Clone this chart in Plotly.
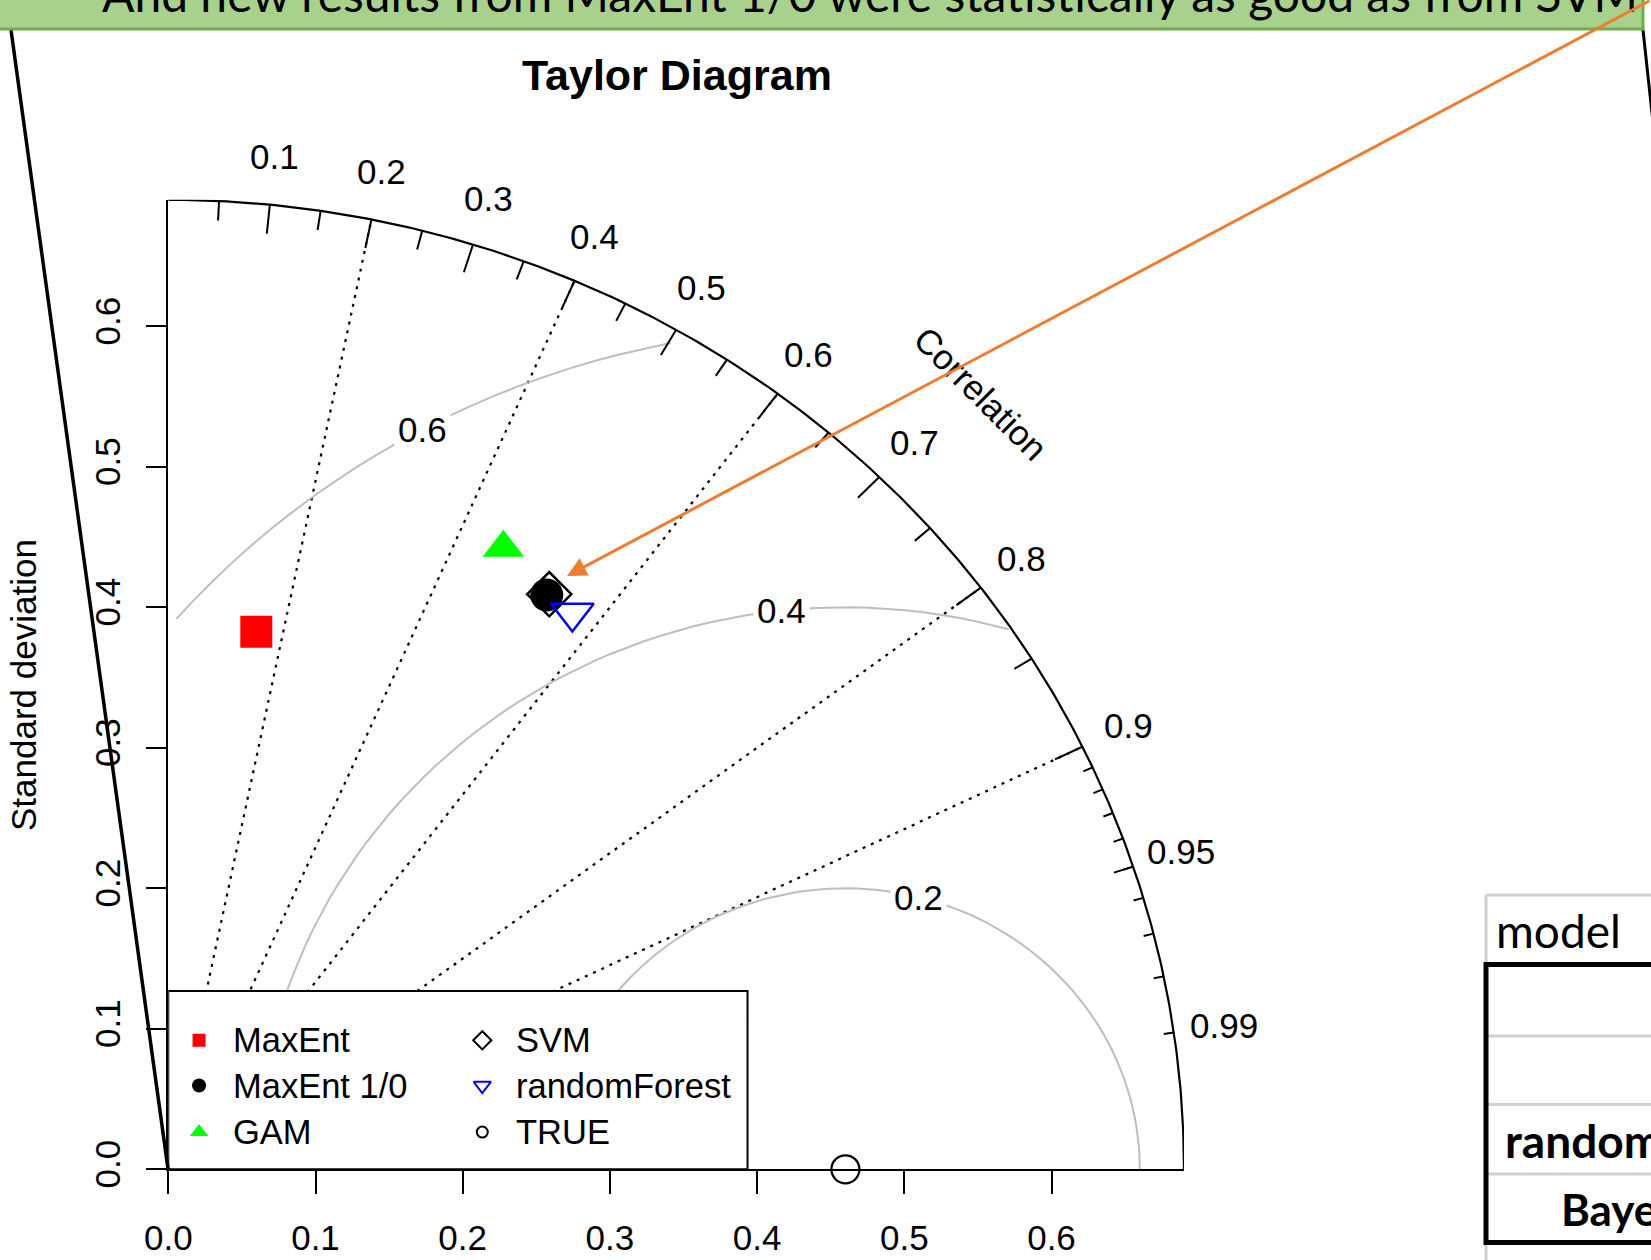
import numpy as np
import plotly.graph_objects as go

# ---------------- data ----------------
models = ["MaxEnt", "MaxEnt 1/0", "GAM", "SVM", "randomForest"]
model_sd = [0.3872, 0.4829, 0.4975, 0.4843, 0.4818]
model_cor = [0.1544, 0.5324, 0.4575, 0.5344, 0.5697]
ref_name = "TRUE"
ref_sd = 0.46
max_sd = 0.69

sd_ticks = [0.0, 0.1, 0.2, 0.3, 0.4, 0.5, 0.6]
sd_ticklabels = ["0.0", "0.1", "0.2", "0.3", "0.4", "0.5", "0.6"]
corr_big = [0.1, 0.2, 0.3, 0.4, 0.5, 0.6, 0.7, 0.8, 0.9]
corr_labels = [0.1, 0.2, 0.3, 0.4, 0.5, 0.6, 0.7, 0.8, 0.9, 0.95, 0.99]
corr_med = [0.05, 0.15, 0.25, 0.35, 0.45, 0.55, 0.65, 0.75, 0.85, 0.95]
corr_small = [0.91, 0.92, 0.93, 0.94, 0.95, 0.96, 0.97, 0.98, 0.99]
grad_corr_lines = [0.2, 0.4, 0.6, 0.8, 0.9]
rms_levels = [0.2, 0.4, 0.6]

banner_text = "And new results from MaxEnt 1/0 were statistically as good as from SVM"
table_header = "model"
table_rows = ["randomForest", "Bayes"]

# ---------------- geometry ----------------
W, H = 1651, 1260
X0, XS = 168.3, 1472.0
Y0, YS = 1169.3, 1405.0
FONT = "Liberation Sans, Arial, sans-serif"
FS = 35
FSL = 34.5


def px(x):
    return x / W


def py(y):
    return 1 - y / H


def d2p(x, y):
    """data coordinates -> paper fractions (plot area fills the page)"""
    return (X0 + XS * x) / W, 1 - (Y0 - YS * y) / H


def polar(sd, cor):
    cor = np.asarray(cor, dtype=float)
    return np.asarray(sd) * cor, np.asarray(sd) * np.sqrt(1 - cor ** 2)


fig = go.Figure()

# dotted correlation lines
dx, dy = [], []
for c in grad_corr_lines:
    x, y = polar(max_sd, c)
    dx += [0, float(x), None]
    dy += [0, float(y), None]
fig.add_trace(go.Scatter(x=dx, y=dy, mode="lines",
                         line=dict(color="black", width=2.2, dash="3px,6px"),
                         hoverinfo="skip"))

# RMS contours (as plotrix: 0.03 rad steps)
t = np.arange(0, np.pi, 0.03)
ann = []
for g in rms_levels:
    xc = np.cos(t) * g + ref_sd
    yc = np.sin(t) * g
    neg = np.where(xc < 0)[0]
    end = neg.min() - 1 if len(neg) else len(t) - 1
    out = np.where(xc ** 2 + yc ** 2 > max_sd ** 2)[0]
    start = out.max() + 1 if len(out) else 0
    fig.add_trace(go.Scatter(x=xc[start:end + 1], y=yc[start:end + 1], mode="lines",
                             line=dict(color="#BEBEBE", width=2), hoverinfo="skip"))
labelpos = [44, 56, 69]
for g, li in zip(rms_levels, labelpos):
    lx = np.cos(t[li]) * g + ref_sd
    ly = np.sin(t[li]) * g
    if lx > 0:
        ann.append(dict(x=lx, y=ly, xref="x", yref="y", text=f"{g:.1f}", showarrow=False,
                        font=dict(family=FONT, size=FS, color="black"),
                        bgcolor="white", borderpad=3, xanchor="center", yanchor="middle"))

# outer arc
ta = np.linspace(0, np.pi / 2, 300)
fig.add_trace(go.Scatter(x=max_sd * np.cos(ta), y=max_sd * np.sin(ta), mode="lines",
                         line=dict(color="black", width=2.2), hoverinfo="skip"))

# correlation ticks
tx, ty = [], []
for clist, f in ((corr_big, 0.97), (corr_med, 0.98), (corr_small, 0.99)):
    for c in clist:
        x1, y1 = polar(max_sd, c)
        x2, y2 = polar(max_sd * f, c)
        tx += [float(x1), float(x2), None]
        ty += [float(y1), float(y2), None]
fig.add_trace(go.Scatter(x=tx, y=ty, mode="lines", line=dict(color="black", width=2),
                         hoverinfo="skip"))

# correlation labels (placed in paper space so they are not hidden outside the range)
for c in corr_labels:
    x, y = polar(1.05 * max_sd, c)
    xp, yp = d2p(float(x), float(y))
    ann.append(dict(x=xp, y=yp, xref="paper", yref="paper", text=f"{c:g}", showarrow=False,
                    font=dict(family=FONT, size=FS, color="black"),
                    xanchor="center", yanchor="middle"))
xp, yp = d2p(0.8 * max_sd, 0.8 * max_sd)
ann.append(dict(x=xp, y=yp, xref="paper", yref="paper", text="Correlation",
                showarrow=False, textangle=45,
                font=dict(family=FONT, size=FS, color="black"),
                xanchor="center", yanchor="middle"))

# legend box
LBX, LBY = 0.3935, 0.1269
fig.add_trace(go.Scatter(x=[0, LBX, LBX, 0, 0], y=[0, 0, LBY, LBY, 0], mode="lines",
                         fill="toself", fillcolor="white",
                         line=dict(color="black", width=2), hoverinfo="skip"))

styles = {
    "MaxEnt": dict(symbol="square", color="#FF0000", size=32, lsize=13, line=dict(width=0)),
    "MaxEnt 1/0": dict(symbol="circle", color="black", size=33, lsize=14, line=dict(width=0)),
    "GAM": dict(symbol="triangle-up", color="#00FF00", size=36, lsize=16, line=dict(width=0)),
    "SVM": dict(symbol="diamond-open", color="black", size=34, lsize=14, line=dict(width=2.5)),
    "randomForest": dict(symbol="triangle-down-open", color="#0000FF", size=37, lsize=15,
                         line=dict(width=2.5)),
    ref_name: dict(symbol="circle-open", color="black", size=28, lsize=11, line=dict(width=2.2)),
}

# legend entries
leg_order = ["MaxEnt", "MaxEnt 1/0", "GAM", "SVM", "randomForest", ref_name]
leg_rows = [0.0918, 0.0596, 0.0265]
leg_cols = [(0.0209, 0.0425), (0.2133, 0.2350)]
for i, name in enumerate(leg_order):
    col, row = divmod(i, 3)
    mx, tx0 = leg_cols[col]
    s = styles[name]
    fig.add_trace(go.Scatter(x=[mx], y=[leg_rows[row]], mode="markers",
                             marker=dict(symbol=s["symbol"], color=s["color"], size=s["lsize"],
                                         line=dict(width=min(s["line"]["width"], 2), color=s["color"])),
                             hoverinfo="skip"))
    ann.append(dict(x=tx0, y=leg_rows[row], xref="x", yref="y", text=name, showarrow=False,
                    font=dict(family=FONT, size=FSL, color="black"),
                    xanchor="left", yanchor="middle"))

# model points
draw_order = ["MaxEnt", "GAM", "SVM", "MaxEnt 1/0", "randomForest"]
for name in draw_order:
    i = models.index(name)
    x, y = polar(model_sd[i], model_cor[i])
    s = styles[name]
    fig.add_trace(go.Scatter(x=[float(x)], y=[float(y)], mode="markers", name=name,
                             marker=dict(symbol=s["symbol"], color=s["color"], size=s["size"],
                                         line=dict(width=s["line"]["width"], color=s["color"])),
                             cliponaxis=False))
s = styles[ref_name]
fig.add_trace(go.Scatter(x=[ref_sd], y=[0], mode="markers", name=ref_name,
                         marker=dict(symbol=s["symbol"], color=s["color"], size=s["size"],
                                     line=dict(width=s["line"]["width"], color=s["color"])),
                         cliponaxis=False))

# title & y label
ann.append(dict(x=px(677), y=py(75), xref="paper", yref="paper", text="<b>Taylor Diagram</b>",
                showarrow=False, font=dict(family=FONT, size=43, color="black"),
                xanchor="center", yanchor="middle"))
ann.append(dict(x=px(23), y=py(685), xref="paper", yref="paper", text="Standard deviation",
                showarrow=False, textangle=-90, font=dict(family=FONT, size=FS, color="black"),
                xanchor="center", yanchor="middle"))

# slide overlay: banner, arrow, table
shapes = []
shapes.append(dict(type="line", xref="paper", yref="paper", x0=px(11), y0=py(30),
                   x1=px(168), y1=py(1169), line=dict(color="black", width=3.5), layer="above"))
shapes.append(dict(type="line", xref="paper", yref="paper", x0=px(1643), y0=py(30),
                   x1=px(1660), y1=py(187), line=dict(color="black", width=3), layer="above"))
shapes.append(dict(type="rect", xref="paper", yref="paper", x0=px(-10), y0=py(29),
                   x1=px(1643), y1=py(-20), fillcolor="#A9D18E",
                   line=dict(color="#70AD47", width=3), layer="above"))
ann.append(dict(x=px(100), y=py(12), xref="paper", yref="paper", text=banner_text,
                showarrow=False, font=dict(family="Lato, sans-serif", size=48, color="black"),
                xanchor="left", yanchor="bottom", yshift=-12))
ann.append(dict(x=px(567), y=py(576), xref="paper", yref="paper", text="",
                showarrow=True, arrowhead=2, arrowsize=1.3, arrowwidth=3,
                arrowcolor="#ED7D31", ax=1110, ay=-600, standoff=0))

gray = "#D0D0D0"
shapes.append(dict(type="line", xref="paper", yref="paper", x0=px(1486), y0=py(895),
                   x1=px(1486), y1=py(1270), line=dict(color=gray, width=3), layer="above"))
shapes.append(dict(type="line", xref="paper", yref="paper", x0=px(1486), y0=py(895),
                   x1=px(1660), y1=py(895), line=dict(color=gray, width=3), layer="above"))
for yy in (1036, 1104.6, 1174):
    shapes.append(dict(type="line", xref="paper", yref="paper", x0=px(1488), y0=py(yy),
                       x1=px(1660), y1=py(yy), line=dict(color=gray, width=3), layer="above"))
for yy in (964.5, 1242.5):
    shapes.append(dict(type="line", xref="paper", yref="paper", x0=px(1484), y0=py(yy),
                       x1=px(1660), y1=py(yy), line=dict(color="black", width=5), layer="above"))
shapes.append(dict(type="line", xref="paper", yref="paper", x0=px(1486), y0=py(962),
                   x1=px(1486), y1=py(1245), line=dict(color="black", width=5), layer="above"))
ann.append(dict(x=px(1494), y=py(930), xref="paper", yref="paper", text=table_header,
                showarrow=False, font=dict(family="Lato, sans-serif", size=46, color="black"),
                xanchor="left", yanchor="middle"))
ann.append(dict(x=px(1503), y=py(1140), xref="paper", yref="paper", text="<b>%s</b>" % table_rows[0],
                showarrow=False, font=dict(family="Lato, sans-serif", size=46, color="black"),
                xanchor="left", yanchor="middle"))
ann.append(dict(x=px(1559), y=py(1209), xref="paper", yref="paper", text="<b>%s</b>" % table_rows[1],
                showarrow=False, font=dict(family="Lato, sans-serif", size=44, color="black"),
                xanchor="left", yanchor="middle"))

xd = [X0 / W, (X0 + XS * max_sd) / W]
yd = [(H - Y0) / H, (H - (Y0 - YS * max_sd)) / H]

fig.update_layout(
    width=W, height=H, margin=dict(l=0, r=0, t=0, b=0, autoexpand=False),
    paper_bgcolor="white", plot_bgcolor="white", showlegend=False,
    xaxis=dict(domain=xd, range=[0, max_sd], showgrid=False, zeroline=False, automargin=False,
               showline=True, linecolor="black", linewidth=2.2,
               ticks="outside", ticklen=23, tickwidth=2, tickcolor="black",
               tickvals=sd_ticks, ticktext=sd_ticklabels,
               tickfont=dict(family=FONT, size=FS, color="black"), ticklabelstandoff=14),
    yaxis=dict(domain=yd, range=[0, max_sd], showgrid=False, zeroline=False, automargin=False,
               showline=True, linecolor="black", linewidth=2.2,
               ticks="outside", ticklen=20, tickwidth=2, tickcolor="black",
               tickvals=sd_ticks, ticktext=sd_ticklabels, tickangle=-90,
               tickfont=dict(family=FONT, size=FS, color="black"), ticklabelstandoff=12),
    annotations=ann, shapes=shapes,
)

fig.write_html("out.html")
